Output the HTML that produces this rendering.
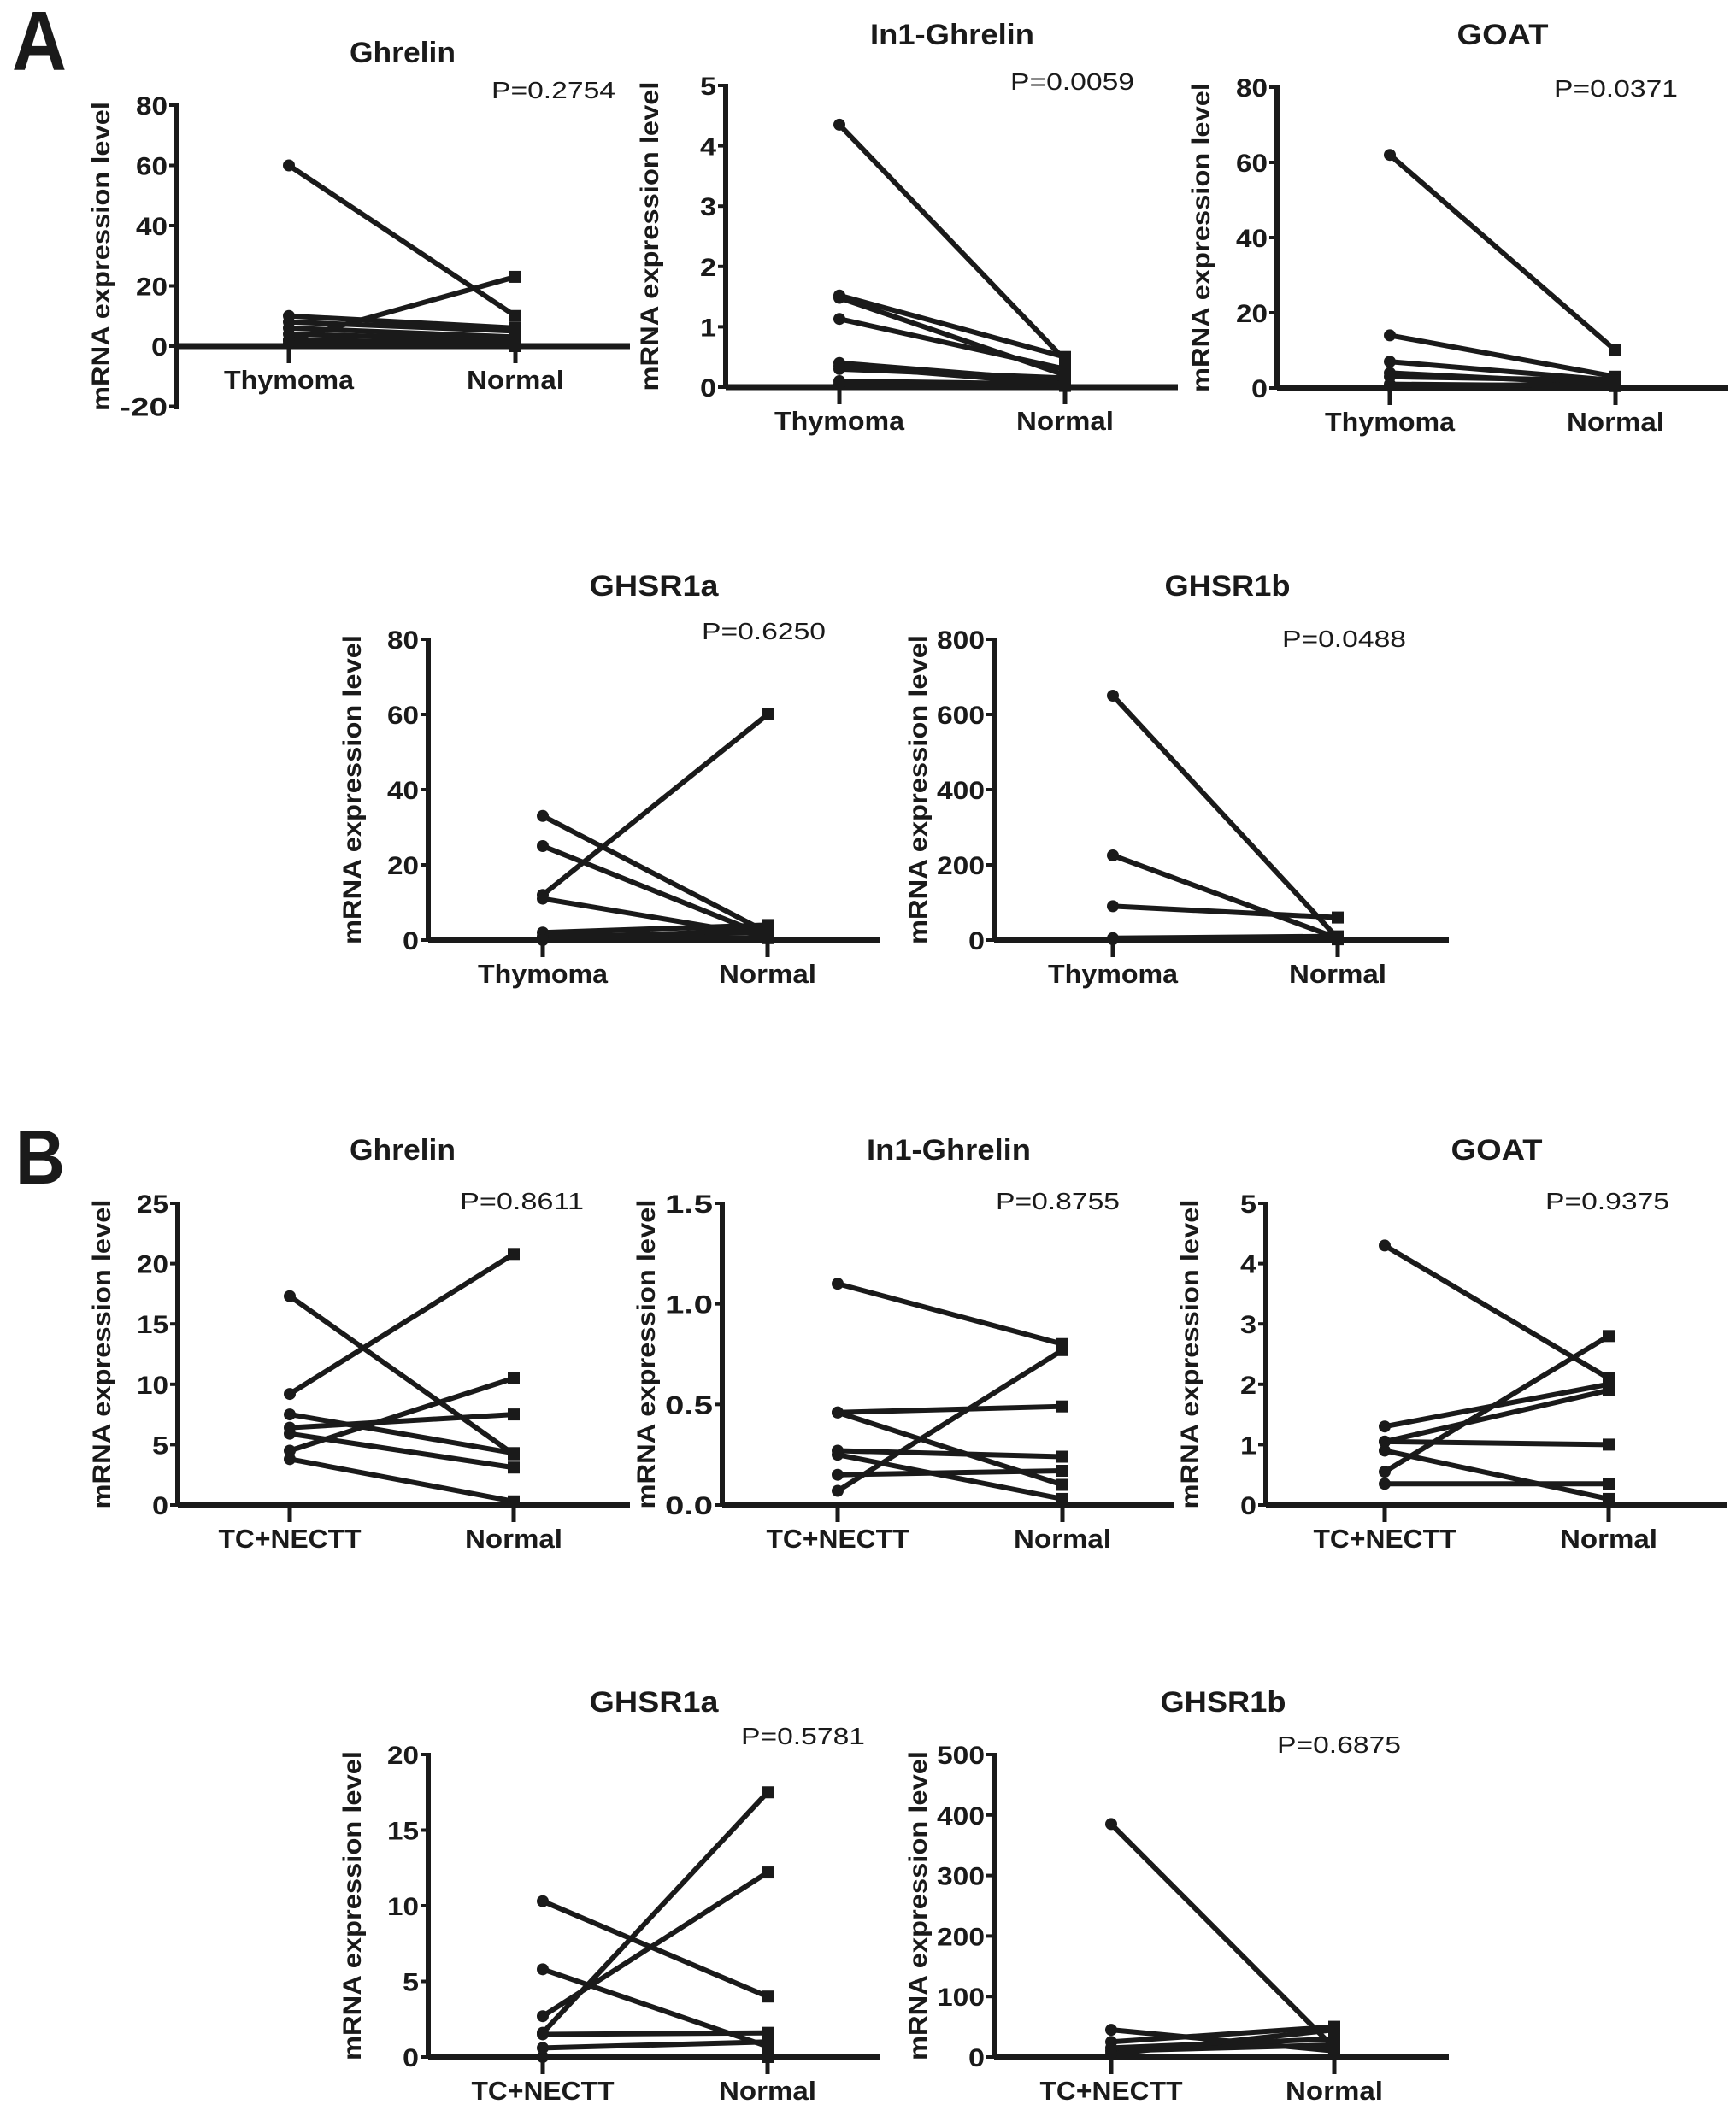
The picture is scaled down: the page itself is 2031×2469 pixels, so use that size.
<!DOCTYPE html>
<html><head><meta charset="utf-8"><style>
html,body{margin:0;padding:0;background:#fff;}
svg{display:block;}
text{font-family:"Liberation Sans",Arial,sans-serif;fill:#1a1a1a;}
</style></head><body>
<svg id="fig" width="2031" height="2469" viewBox="0 0 2031 2469">
<text x="14" y="82" font-size="98" font-weight="bold" textLength="64" lengthAdjust="spacingAndGlyphs">A</text>
<text x="18" y="1385" font-size="90" font-weight="bold" textLength="58" lengthAdjust="spacingAndGlyphs">B</text>
</svg>
<script>
// ---- data (left group value -> Normal value) ----
const aGhrelinLeft = [60, 2, 10, 8, 6, 4, 2, 1];
const aGhrelinRight = [10, 23, 6, 5, 3, 2, 1, 0];
const aIn1Left = [4.35, 1.52, 1.48, 1.13, 0.4, 0.35, 0.3, 0.1, 0.05];
const aIn1Right = [0.45, 0.5, 0.2, 0.3, 0.1, 0.05, 0.15, 0.05, 0.02];
const aGoatLeft = [62, 14, 7, 4, 3, 1, 0.5];
const aGoatRight = [10, 3, 2, 1, 2, 0.5, 1];
const aGhsr1aLeft = [33, 25, 12, 11, 2, 1, 0.5, 0];
const aGhsr1aRight = [2, 1, 60, 1, 4, 2, 0.5, 3];
const aGhsr1bLeft = [650, 225, 90, 5, 2];
const aGhsr1bRight = [5, 5, 60, 10, 2];
const bGhrelinLeft = [17.3, 9.2, 7.5, 6.4, 5.9, 4.5, 3.8];
const bGhrelinRight = [4.2, 20.8, 4.3, 7.5, 3.1, 10.5, 0.3];
const bIn1Left = [1.1, 0.46, 0.46, 0.27, 0.25, 0.15, 0.07];
const bIn1Right = [0.8, 0.49, 0.1, 0.24, 0.03, 0.17, 0.77];
const bGoatLeft = [4.3, 1.3, 1.05, 1.05, 0.9, 0.55, 0.35];
const bGoatRight = [2.1, 2.0, 1.9, 1.0, 0.1, 2.8, 0.35];
const bGhsr1aLeft = [10.3, 5.8, 1.6, 2.7, 1.5, 0.6, 0];
const bGhsr1aRight = [4.0, 0.7, 17.5, 12.2, 1.6, 1.0, 0];
const bGhsr1bLeft = [385, 45, 25, 15, 10, 5];
const bGhsr1bRight = [15, 10, 50, 30, 20, 45];
// ---- tick labels ----
const ticksAGhrelin = [-20, 0, 20, 40, 60, 80];
const ticksAIn1 = [0, 1, 2, 3, 4, 5];
const ticksAGoat = [0, 20, 40, 60, 80];
const ticksAGhsr1a = [0, 20, 40, 60, 80];
const ticksAGhsr1b = [0, 200, 400, 600, 800];
const ticksBGhrelin = [0, 5, 10, 15, 20, 25];
const ticksBIn1 = ["0.0", "0.5", "1.0", "1.5"];
const ticksBGoat = [0, 1, 2, 3, 4, 5];
const ticksBGhsr1a = [0, 5, 10, 15, 20];
const ticksBGhsr1b = [0, 100, 200, 300, 400, 500];
const catsA = ["Thymoma", "Normal"];
const catsB = ["TC+NECTT", "Normal"];

const NS = "http://www.w3.org/2000/svg";
const svg = document.getElementById("fig");
function mk(tag, attrs, parent) {
  const e = document.createElementNS(NS, tag);
  for (const k in attrs) e.setAttribute(k, attrs[k]);
  (parent || svg).appendChild(e);
  return e;
}

const panels = [
  {id:"a-ghrelin", title:"Ghrelin", tw:124, tx:471, ty:73, p:"P=0.2754", px:575, py:115, ax:207, yTop:123, y0:405, yBot:477, x1:737, c1:338, c2:603, ticks:ticksAGhrelin, cats:catsA, L:aGhrelinLeft, R:aGhrelinRight},
  {id:"a-in1-ghrelin", title:"In1-Ghrelin", tw:192, tx:1114, ty:52, p:"P=0.0059", px:1182, py:105, ax:849, yTop:100, y0:453, yBot:453, x1:1378, c1:982, c2:1246, ticks:ticksAIn1, cats:catsA, L:aIn1Left, R:aIn1Right},
  {id:"a-goat", title:"GOAT", tw:107, tx:1758, ty:52, p:"P=0.0371", px:1818, py:113, ax:1494, yTop:102, y0:454, yBot:454, x1:2022, c1:1626, c2:1890, ticks:ticksAGoat, cats:catsA, L:aGoatLeft, R:aGoatRight},
  {id:"a-ghsr1a", title:"GHSR1a", tw:151, tx:765, ty:697, p:"P=0.6250", px:821, py:748, ax:501, yTop:748, y0:1100, yBot:1100, x1:1029, c1:635, c2:898, ticks:ticksAGhsr1a, cats:catsA, L:aGhsr1aLeft, R:aGhsr1aRight},
  {id:"a-ghsr1b", title:"GHSR1b", tw:147, tx:1436, ty:697, p:"P=0.0488", px:1500, py:757, ax:1163, yTop:748, y0:1100, yBot:1100, x1:1695, c1:1302, c2:1565, ticks:ticksAGhsr1b, cats:catsA, L:aGhsr1bLeft, R:aGhsr1bRight},
  {id:"b-ghrelin", title:"Ghrelin", tw:124, tx:471, ty:1357, p:"P=0.8611", px:538, py:1415, ax:208, yTop:1408, y0:1761, yBot:1761, x1:737, c1:339, c2:601, ticks:ticksBGhrelin, cats:catsB, L:bGhrelinLeft, R:bGhrelinRight},
  {id:"b-in1-ghrelin", title:"In1-Ghrelin", tw:192, tx:1110, ty:1357, p:"P=0.8755", px:1165, py:1415, ax:845, yTop:1408, y0:1761, yBot:1761, x1:1374, c1:980, c2:1243, ticks:ticksBIn1, cats:catsB, L:bIn1Left, R:bIn1Right},
  {id:"b-goat", title:"GOAT", tw:107, tx:1751, ty:1357, p:"P=0.9375", px:1808, py:1415, ax:1481, yTop:1408, y0:1761, yBot:1761, x1:2020, c1:1620, c2:1882, ticks:ticksBGoat, cats:catsB, L:bGoatLeft, R:bGoatRight},
  {id:"b-ghsr1a", title:"GHSR1a", tw:151, tx:765, ty:2003, p:"P=0.5781", px:867, py:2041, ax:501, yTop:2053, y0:2407, yBot:2407, x1:1029, c1:635, c2:898, ticks:ticksBGhsr1a, cats:catsB, L:bGhsr1aLeft, R:bGhsr1aRight},
  {id:"b-ghsr1b", title:"GHSR1b", tw:147, tx:1431, ty:2003, p:"P=0.6875", px:1494, py:2051, ax:1163, yTop:2053, y0:2407, yBot:2407, x1:1695, c1:1300, c2:1561, ticks:ticksBGhsr1b, cats:catsB, L:bGhsr1bLeft, R:bGhsr1bRight}
];

panels.forEach(pn => {
  const g = mk("g", {});
  
  
  const tmax = parseFloat(pn.ticks[pn.ticks.length - 1]);
  const ys = v => pn.y0 - (v / tmax) * (pn.y0 - pn.yTop);
  const t = mk("text", {x:pn.tx, y:pn.ty, "text-anchor":"middle", "font-size":34, "font-weight":"bold", textLength:pn.tw, lengthAdjust:"spacingAndGlyphs"}, g);
  t.textContent = pn.title;
  
  
  const p = mk("text", {x:pn.px, y:pn.py, "font-size":28, textLength:145, lengthAdjust:"spacingAndGlyphs"}, g);
  p.textContent = pn.p;
  
  
  const ya = mk("line", {x1:pn.ax, y1:pn.yTop - 2, x2:pn.ax, y2:pn.yBot + 2, stroke:"#1a1a1a", "stroke-width":6}, g);
  
  
  pn.ticks.forEach(tv => {
    const y = ys(parseFloat(tv));
    const tk = mk("line", {x1:pn.ax - 9, y1:y, x2:pn.ax, y2:y, stroke:"#1a1a1a", "stroke-width":4}, g);
    
    
    const s = String(tv);
    const tl = mk("text", {x:pn.ax - 11, y:y + 11, "text-anchor":"end", "font-size":30, "font-weight":"bold", textLength:Math.round(s.length * 18.5), lengthAdjust:"spacingAndGlyphs"}, g);
    tl.textContent = s;
    
    
  });
  const cy = (pn.yTop + pn.yBot) / 2;
  const yt = mk("text", {x:0, y:0, "text-anchor":"middle", "font-size":30, "font-weight":"bold", textLength:362, lengthAdjust:"spacingAndGlyphs", transform:`translate(${pn.ax - 79},${cy}) rotate(-90)`}, g);
  yt.textContent = "mRNA expression level";
  
  
  const xa = mk("line", {x1:pn.ax, y1:pn.y0, x2:pn.x1, y2:pn.y0, stroke:"#1a1a1a", "stroke-width":7}, g);
  
  
  [pn.c1, pn.c2].forEach((cx, i) => {
    const tk = mk("line", {x1:cx, y1:pn.y0, x2:cx, y2:pn.y0 + 20, stroke:"#1a1a1a", "stroke-width":5}, g);
    
    
    const lab = pn.cats[i];
    const cl = mk("text", {x:cx, y:pn.y0 + 50, "text-anchor":"middle", "font-size":31, "font-weight":"bold", textLength:(lab === "Normal" ? 114 : (lab === "Thymoma" ? 152 : 167)), lengthAdjust:"spacingAndGlyphs"}, g);
    cl.textContent = lab;
    
    
  });
  pn.L.forEach((lv, i) => {
    const rv = pn.R[i];
    const ln = mk("line", {x1:pn.c1, y1:ys(lv), x2:pn.c2, y2:ys(rv), stroke:"#1a1a1a", "stroke-width":6}, g);
    
    
    const c = mk("circle", {cx:pn.c1, cy:ys(lv), r:7, fill:"#1a1a1a"}, g);
    
    
    const sq = mk("rect", {x:pn.c2 - 7, y:ys(rv) - 7, width:14, height:14, fill:"#1a1a1a"}, g);
    
    
  });
});
</script>
</body></html>
